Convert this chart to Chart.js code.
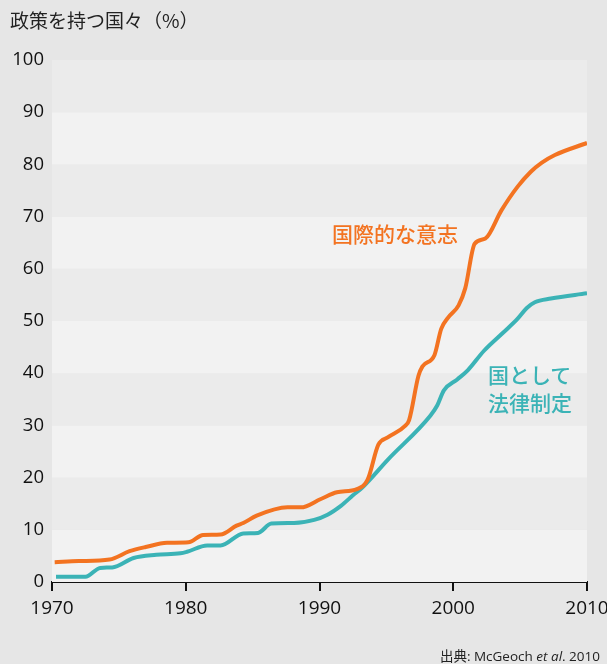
<!DOCTYPE html>
<html>
<head>
<meta charset="utf-8">
<script src="https://cdn.jsdelivr.net/npm/chart.js@4"></script>
<style>
  html, body { margin: 0; padding: 0; background: #e6e6e6; }
  #wrap { position: relative; width: 607px; height: 664px; }
  .txt { position: absolute; font-family: "Noto Sans CJK JP", "Open Sans", sans-serif; white-space: nowrap; }
  #title { left: 10px; top: 6px; font-size: 19px; color: #222; }
  #lblIntl { left: 332px; top: 218px; font-size: 21px; font-weight: 500; color: #f37321; }
  #lblLaw { left: 488px; top: 360px; font-size: 21px; font-weight: 500; color: #3bb3b6; line-height: 28px; }
  #source { right: 7px; top: 645px; font-size: 13.5px; color: #222; font-family: "Open Sans", "Noto Sans CJK JP", sans-serif; }
</style>
</head>
<body>
<div id="wrap">
  <canvas id="chart" width="607" height="664"></canvas>
  <div class="txt" id="title">政策を持つ国々（%）</div>
  <div class="txt" id="lblIntl">国際的な意志</div>
  <div class="txt" id="lblLaw">国として<br>法律制定</div>
  <div class="txt" id="source"><span style="font-family:'Noto Sans CJK JP'">出典</span>: McGeoch <i>et al</i>. 2010</div>
</div>
<script>
const intlYears = [1970.2, 1972, 1974.3, 1975.8, 1977, 1978.6, 1980.2, 1981.3, 1982.6, 1983.8, 1984.3, 1985.3, 1987.6, 1988.6, 1990.1, 1991.3, 1992.8, 1993.6, 1994.4, 1995.1, 1996.4, 1996.7, 1997.4, 1997.7, 1998.6, 1999.1, 1999.6, 2000.4, 2000.9, 2001.6, 2002.4, 2003.6, 2004.8, 2005.8, 2006.6, 2007.6, 2010];
const intlValues = [3.8, 4.0, 4.3, 5.9, 6.7, 7.5, 7.6, 9.0, 9.1, 10.8, 11.3, 12.7, 14.3, 14.3, 15.9, 17.2, 17.8, 19.6, 26.3, 27.7, 29.9, 31.0, 39.5, 41.3, 43.5, 48.5, 50.6, 53.0, 56.3, 64.8, 65.8, 71.2, 75.7, 78.6, 80.3, 81.8, 84.1];

const lawYears = [1970.3, 1972.5, 1973.6, 1974.5, 1976.1, 1977.8, 1979.6, 1980.1, 1981.6, 1982.6, 1984.3, 1985.4, 1986.4, 1988.1, 1989.6, 1990.6, 1991.6, 1992.5, 1993.2, 1995.1, 1998.3, 1998.8, 1999.3, 2000.3, 2001.1, 2002.3, 2003.7, 2004.8, 2005.5, 2006.1, 2007.3, 2010];
const lawValues = [1.0, 1.0, 2.7, 2.8, 4.6, 5.2, 5.5, 5.8, 7.0, 7.0, 9.3, 9.4, 11.2, 11.3, 11.9, 12.9, 14.6, 16.6, 18.1, 23.4, 31.9, 33.8, 36.7, 38.8, 40.6, 44.3, 47.7, 50.4, 52.5, 53.6, 54.3, 55.3];

const xTicks = [1970, 1980, 1990, 2000, 2010];
const yTicks = [0, 10, 20, 30, 40, 50, 60, 70, 80, 90, 100];

const toPoints = (xs, ys) => xs.map((x, i) => ({ x, y: ys[i] }));

// alternating horizontal bands behind the plot
const bands = {
    id: "bands",
    beforeDatasetsDraw(chart) {
        const { ctx, chartArea, scales } = chart;
        ctx.save();
        for (let i = 0; i < yTicks.length - 1; i++) {
            const top = scales.y.getPixelForValue(yTicks[i + 1]);
            const bottom = scales.y.getPixelForValue(yTicks[i]);
            ctx.fillStyle = i % 2 === 0 ? "#f2f2f2" : "#ebebeb";
            ctx.fillRect(chartArea.left, top, chartArea.right - chartArea.left, bottom - top);
        }
        ctx.restore();
    }
};

new Chart(document.getElementById("chart"), {
    type: "line",
    data: {
        datasets: [
            {
                label: "国際的な意志",
                data: toPoints(intlYears, intlValues),
                borderColor: "#f37321",
                borderWidth: 4,
                pointRadius: 0,
                cubicInterpolationMode: "monotone"
            },
            {
                label: "国として法律制定",
                data: toPoints(lawYears, lawValues),
                borderColor: "#3bb3b6",
                borderWidth: 4,
                pointRadius: 0,
                cubicInterpolationMode: "monotone"
            }
        ]
    },
    options: {
        responsive: false,
        animation: false,
        layout: { padding: { top: 60, right: 0, left: 0, bottom: 0 } },
        plugins: {
            legend: { display: false },
            tooltip: { enabled: false }
        },
        scales: {
            x: {
                type: "linear",
                min: 1970,
                max: 2010,
                afterBuildTicks: s => { s.ticks = xTicks.map(v => ({ value: v })); },
                afterFit: s => { s.height = 82; s.paddingRight = 20; s.paddingLeft = 0; },
                grid: { display: true, drawOnChartArea: false, drawTicks: true, tickLength: 9, color: "#111", lineWidth: 2 },
                border: { display: true, color: "#111", width: 2 },
                ticks: {
                    color: "#111",
                    font: { family: "Open Sans", size: 19 },
                    padding: 6,
                    maxRotation: 0,
                    callback: v => String(v)
                }
            },
            y: {
                min: 0,
                max: 100,
                afterBuildTicks: s => { s.ticks = yTicks.map(v => ({ value: v })); },
                afterFit: s => { s.width = 52; },
                grid: { display: false, drawTicks: false },
                border: { display: false },
                ticks: {
                    color: "#111",
                    font: { family: "Open Sans", size: 18.5 },
                    padding: 8
                }
            }
        }
    },
    plugins: [bands]
});
</script>
</body>
</html>
